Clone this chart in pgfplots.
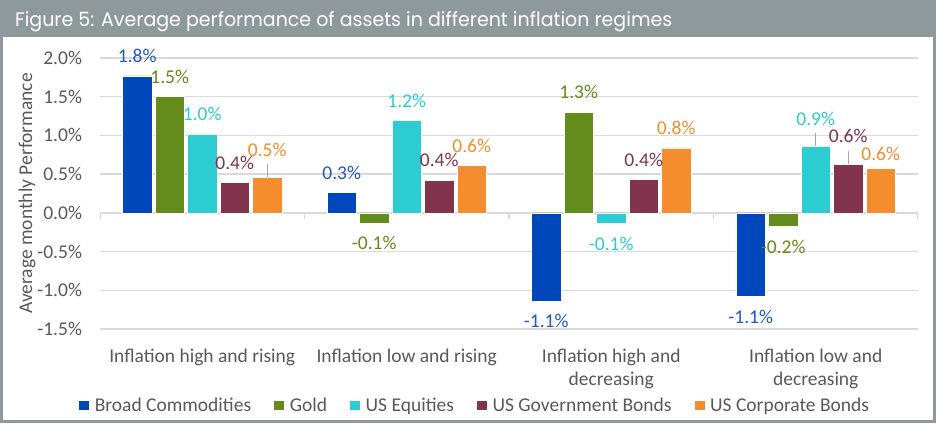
\documentclass[border=0pt]{standalone}
\usepackage{graphicx}
\usepackage{pgfplots}
\pgfplotsset{compat=1.18}
\usepackage{fontspec}
\setmainfont{Carlito}
\newfontfamily\titlefont{Poppins}

\definecolor{cBC}{HTML}{0047BB}
\definecolor{cGold}{HTML}{648C1A}
\definecolor{cEq}{HTML}{2CCCD3}
\definecolor{cGov}{HTML}{82334E}
\definecolor{cCorp}{HTML}{F58C2D}
\definecolor{lBC}{HTML}{1F58C8}
\definecolor{frameGray}{HTML}{8E999C}
\definecolor{gridGray}{HTML}{D9D9D9}
\definecolor{leaderGray}{HTML}{A6A6A6}
\definecolor{txtGray}{HTML}{595959}

% x = regime, y = monthly performance (%), dy = extra lift of the value label (pt)
\pgfplotstableread{
x y dy
0 1.77 0
1 0.26 0
2 -1.14 0
3 -1.08 0
}\commodities
\pgfplotstableread{
x y dy
0 1.50 0
1 -0.13 0
2 1.30 0
3 -0.18 0
}\gold
\pgfplotstableread{
x y dy
0 1.02 0
1 1.19 0
2 -0.14 0
3 0.86 7
}\equities
\pgfplotstableread{
x y dy
0 0.39 0
1 0.42 0
2 0.43 0
3 0.63 8
}\govbonds
\pgfplotstableread{
x y dy
0 0.46 7
1 0.61 0
2 0.84 0
3 0.57 -5
}\corpbonds

\begin{document}
\begin{tikzpicture}
\useasboundingbox (0pt,0pt) rectangle (936pt,423pt);
% frame and title bar
\fill[frameGray] (0pt,0pt) rectangle (936pt,423pt);
\fill[white] (3pt,3pt) rectangle (932.5pt,386pt);
\node[anchor=base west, inner sep=0pt, text=white] at (15pt,396pt)
  {\resizebox{657pt}{15pt}{\titlefont Figure 5: Average performance of assets in different inflation regimes}};

\begin{axis}[
  at={(100pt,94pt)}, anchor=south west,
  scale only axis, width=818pt, height=271pt,
  xmin=-0.5, xmax=3.5, ymin=-1.5, ymax=2.0,
  enlarge x limits=false,
  /pgf/number format/assume math mode=true,
  font=\fontsize{19.5}{23.5}\selectfont,
  axis line style={draw=none},
  major tick style={draw=none},
  ytick={-1.5,-1,-0.5,0,0.5,1,1.5,2},
  yticklabel={\pgfmathprintnumber[fixed,fixed zerofill,precision=1]{\tick}\%},
  yticklabel style={text=txtGray, anchor=east, xshift=-14.5pt},
  ymajorgrids, grid style={gridGray, line width=1.3pt},
  xtick={0,1,2,3},
  xticklabels={Inflation high and rising, Inflation low and rising, Inflation high and\\decreasing, Inflation low and\\decreasing},
  xticklabel style={text=txtGray, align=center, anchor=north, yshift=-12pt},
  ylabel={Average monthly Performance},
  ylabel style={text=txtGray, at={(axis description cs:-0.0892,0.5)}, anchor=center},
  ybar=3pt, bar width=29.5pt,
  legend columns=5,
  legend style={at={(axis description cs:0.458,-0.284)}, anchor=center, draw=none, fill=none,
    font=\fontsize{19.5}{23.5}\selectfont, text=txtGray,
    /tikz/every odd column/.append style={column sep=3pt},
    /tikz/every even column/.append style={column sep=20pt}},
  legend image code/.code={\fill[#1] (0pt,-4.5pt) rectangle (11pt,5.5pt);},
  bar style/.style={draw=white, line width=0.6pt,
    visualization depends on={\thisrow{dy} \as \labeldy},
    nodes near coords={\pgfmathprintnumber[fixed,fixed zerofill,precision=1]{\pgfplotspointmeta}\%},
    nodes near coords style={inner ysep=13pt, inner xsep=0pt,
      font=\fontsize{19.5}{23.5}\selectfont, yshift=\labeldy pt}},
]
% zero line with category separators
\draw[gridGray, line width=1.3pt] (axis cs:-0.5,0) -- (axis cs:3.5,0);
\pgfplotsinvokeforeach{-0.5,0.5,1.5,2.5,3.5}{
  \draw[gridGray, line width=1.3pt] (axis cs:#1,0) -- ++(0pt,-6pt);
}
\addplot[fill=cBC, bar style, nodes near coords style={text=lBC}] table[x=x,y=y] {\commodities};
\addplot[fill=cGold, bar style, nodes near coords style={text=cGold}] table[x=x,y=y] {\gold};
\addplot[fill=cEq, bar style, nodes near coords style={text=cEq}] table[x=x,y=y] {\equities};
\addplot[fill=cGov, bar style, nodes near coords style={text=cGov}] table[x=x,y=y] {\govbonds};
\addplot[fill=cCorp, bar style, nodes near coords style={text=cCorp}] table[x=x,y=y] {\corpbonds};
% leader lines of the lifted value labels
\draw[leaderGray, line width=0.8pt] ([xshift=65pt]axis cs:0,0.46) -- ++(0pt,13pt);
\draw[leaderGray, line width=0.8pt] (axis cs:3,0.86) -- ++(0pt,13pt);
\draw[leaderGray, line width=0.8pt] ([xshift=32.5pt]axis cs:3,0.63) -- ++(0pt,13pt);
\legend{Broad Commodities, Gold, US Equities, US Government Bonds, US Corporate Bonds}
\end{axis}
\end{tikzpicture}
\end{document}
